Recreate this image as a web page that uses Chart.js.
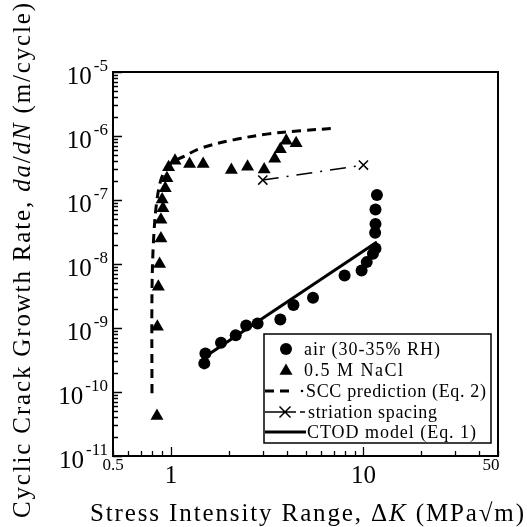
<!DOCTYPE html>
<html>
<head>
<meta charset="utf-8">
<script src="https://cdn.jsdelivr.net/npm/chart.js@4.4.1/dist/chart.umd.min.js"></script>
<style>
  body { margin: 0; background: #fff; }
  #wrap { width: 527px; height: 527px; }
</style>
</head>
<body>
<div id="wrap"><canvas id="chart"></canvas></div>
<script>
// air (30-35% RH)
const airK = [1.49, 1.51, 1.82, 2.17, 2.46, 2.82, 3.70, 4.33, 5.47, 7.98, 9.78, 10.4, 11.2, 11.55, 11.5, 11.55, 11.55, 11.75];
const airRate = [2.8e-10, 4.0e-10, 5.9e-10, 7.7e-10, 1.09e-9, 1.18e-9, 1.36e-9, 2.29e-9, 2.97e-9, 6.6e-9, 7.9e-9, 1.07e-8, 1.44e-8, 1.74e-8, 3.09e-8, 4.2e-8, 7.1e-8, 1.2e-7];

// 0.5 M NaCl
const naclK = [0.846, 0.85, 0.86, 0.873, 0.887, 0.887, 0.909, 0.90, 0.934, 0.953, 0.972, 1.05, 1.25, 1.47, 2.06, 2.50, 3.05, 3.46, 3.70, 3.97, 4.47];
const naclRate = [4.2e-11, 1.05e-9, 4.4e-9, 1.0e-8, 2.5e-8, 4.9e-8, 7.4e-8, 1.02e-7, 1.52e-7, 2.19e-7, 3.24e-7, 4.1e-7, 3.65e-7, 3.65e-7, 2.95e-7, 3.3e-7, 3.0e-7, 4.4e-7, 6.2e-7, 8.4e-7, 7.7e-7];

// SCC prediction (Eq. 2)
const sccK = [0.797, 0.797, 0.812, 0.846, 0.898, 0.99, 1.16, 1.42, 2.11, 3.15, 4.7, 7.14];
const sccRate = [9.6e-11, 3.5e-9, 2.37e-8, 1.0e-7, 2.3e-7, 3.7e-7, 4.75e-7, 6.4e-7, 8.7e-7, 1.07e-6, 1.21e-6, 1.32e-6];

// striation spacing
const striK = [3.0, 10.0];
const striRate = [2.05e-7, 3.52e-7];

// CTOD model (Eq. 1)
const ctodK = [1.53, 11.75];
const ctodRate = [3.7e-10, 2.2e-8];

// axis ticks
const yExponents = [-11, -10, -9, -8, -7, -6, -5];
const xTickValues = [0.5, 1, 10, 50];
const xTickLabels = ['0.5', '1', '10', '50'];

const pts = (xs, ys) => xs.map((x, i) => ({ x: x, y: ys[i] }));
const SERIF = '"Liberation Serif", "Times New Roman", serif';

// draw text with letter spacing stretched to a target width
function drawRich(ctx, segs, size, x, y, width) {
  ctx.letterSpacing = '0px';
  let base = 0, n = 0;
  segs.forEach(([t, it]) => {
    ctx.font = (it ? 'italic ' : '') + size + 'px ' + SERIF;
    base += ctx.measureText(t).width;
    n += [...t].length;
  });
  const ls = width ? (width - base) / (n - 1) : 0;
  let cx = x;
  segs.forEach(([t, it]) => {
    ctx.font = (it ? 'italic ' : '') + size + 'px ' + SERIF;
    ctx.letterSpacing = '0px';
    const w = ctx.measureText(t).width;
    ctx.letterSpacing = ls + 'px';
    ctx.fillText(t, cx, y);
    cx += w + ls * [...t].length;
  });
  ctx.letterSpacing = '0px';
}

const framePlugin = {
  id: 'frame',
  afterDraw(chart) {
    const { ctx, chartArea: a, scales: { x, y } } = chart;
    ctx.save();
    ctx.strokeStyle = '#000';
    ctx.fillStyle = '#000';
    ctx.lineWidth = 2;
    ctx.strokeRect(a.left, a.top, a.right - a.left, a.bottom - a.top);

    // inward ticks
    ctx.lineWidth = 1.3;
    ctx.beginPath();
    for (let e = -11; e <= -5; e++) {
      for (let m = 1; m < 10; m++) {
        const v = m * Math.pow(10, e);
        if (v > 1.0001e-5) break;
        const py = Math.round(y.getPixelForValue(v)) + 0.5;
        const len = m === 1 ? 9 : 5;
        ctx.moveTo(a.left, py); ctx.lineTo(a.left + len, py);
      }
    }
    for (let e = -1; e <= 1; e++) {
      for (let m = 1; m < 10; m++) {
        const v = m * Math.pow(10, e);
        if (v < 0.5 || v > 50) continue;
        const px = Math.round(x.getPixelForValue(v)) + 0.5;
        const len = m === 1 ? 9 : 5;
        ctx.moveTo(px, a.bottom); ctx.lineTo(px, a.bottom - len);
      }
    }
    ctx.stroke();

    // y tick labels: 10^n
    ctx.textBaseline = 'alphabetic';
    yExponents.forEach(e => {
      const py = y.getPixelForValue(Math.pow(10, e));
      const sup = '-' + Math.abs(e);
      ctx.font = '17px ' + SERIF;
      ctx.textAlign = 'right';
      ctx.fillText(sup, 108, py - 1);
      const sw = ctx.measureText(sup).width;
      ctx.font = '25px ' + SERIF;
      ctx.fillText('10', 106 - sw, py + 12);
    });

    // x tick labels
    ctx.textAlign = 'center';
    xTickValues.forEach((v, i) => {
      const px = x.getPixelForValue(v);
      const big = xTickLabels[i].length < 3 && v < 20;
      ctx.font = (big ? '25px ' : '17px ') + SERIF;
      const off = v === 50 ? -7 : 0;
      ctx.fillText(xTickLabels[i], px + off, big ? a.bottom + 27 : a.bottom + 14);
    });

    // axis titles
    ctx.textAlign = 'left';
    drawRich(ctx, [['Stress Intensity Range, \u0394', false], ['K', true], [' (MPa\u221am)', false]], 25, 90, 521, 434);
    ctx.save();
    ctx.translate(30, 518);
    ctx.rotate(-Math.PI / 2);
    drawRich(ctx, [['Cyclic Crack Growth Rate, ', false], ['da', true], ['/', false], ['dN', true], [' (m/cycle)', false]], 25, 0, 0, 515);
    ctx.restore();

    // legend box
    const ds = chart.data.datasets;
    const lx = 264, ly = 334, lw = 227, lh = 109;
    ctx.fillStyle = '#fff';
    ctx.fillRect(lx, ly, lw, lh);
    ctx.fillStyle = '#000';
    ctx.lineWidth = 1.5;
    ctx.strokeRect(lx, ly, lw, lh);
    const rows = [349, 370, 391, 412, 432];
    const sx = 286;
    // circle
    ctx.beginPath(); ctx.arc(sx, rows[0], 6, 0, Math.PI * 2); ctx.fill();
    // triangle
    const r = 7.5, ty = rows[1] + 1;
    ctx.beginPath();
    ctx.moveTo(sx, ty - r);
    ctx.lineTo(sx + r * 0.866, ty + r / 2);
    ctx.lineTo(sx - r * 0.866, ty + r / 2);
    ctx.closePath(); ctx.fill();
    // dashed
    ctx.lineWidth = 3;
    ctx.setLineDash([9, 6]);
    ctx.beginPath(); ctx.moveTo(265, rows[2]); ctx.lineTo(295, rows[2]); ctx.stroke();
    ctx.setLineDash([]);
    ctx.beginPath(); ctx.arc(302, rows[2], 1.3, 0, Math.PI * 2); ctx.fill();
    // striation
    ctx.lineWidth = 1.5;
    ctx.beginPath();
    ctx.moveTo(265, rows[3]); ctx.lineTo(296, rows[3]);
    ctx.moveTo(300, rows[3]); ctx.lineTo(305, rows[3]);
    const c = 5.5;
    ctx.moveTo(285 - c, rows[3] - c); ctx.lineTo(285 + c, rows[3] + c);
    ctx.moveTo(285 - c, rows[3] + c); ctx.lineTo(285 + c, rows[3] - c);
    ctx.stroke();
    // solid
    ctx.lineWidth = 3;
    ctx.beginPath(); ctx.moveTo(265, rows[4]); ctx.lineTo(306, rows[4]); ctx.stroke();

    const txt = [
      [ds[0].label, 304, 440],
      [ds[1].label, 304, 403],
      [ds[2].label, 306, 486],
      [ds[3].label, 308, 437],
      [ds[4].label, 307, 476]
    ];
    ctx.textAlign = 'left';
    txt.forEach((t, i) => {
      drawRich(ctx, [[t[0], false]], 18, t[1], rows[i] + 6, t[2] - t[1]);
    });
    ctx.restore();
  }
};

new Chart(document.getElementById('chart'), {
  type: 'scatter',
  data: {
    datasets: [
      {
        label: 'air (30-35% RH)',
        data: pts(airK, airRate),
        pointStyle: 'circle',
        pointRadius: 6,
        backgroundColor: '#000',
        borderColor: '#000',
        borderWidth: 0
      },
      {
        label: '0.5 M NaCl',
        data: pts(naclK, naclRate),
        pointStyle: 'triangle',
        pointRadius: 7.5,
        backgroundColor: '#000',
        borderColor: '#000',
        borderWidth: 0
      },
      {
        label: 'SCC prediction (Eq. 2)',
        data: pts(sccK, sccRate),
        showLine: true,
        pointRadius: 0,
        borderColor: '#000',
        borderWidth: 3,
        borderDash: [9, 6],
        tension: 0.35
      },
      {
        label: 'striation spacing',
        data: pts(striK, striRate),
        showLine: true,
        pointStyle: 'crossRot',
        pointRadius: 6.5,
        pointBorderWidth: 1.5,
        borderColor: '#000',
        borderWidth: 1.5,
        borderDash: [16, 8, 2, 8]
      },
      {
        label: 'CTOD model (Eq. 1)',
        data: pts(ctodK, ctodRate),
        showLine: true,
        pointRadius: 0,
        borderColor: '#000',
        borderWidth: 3
      }
    ]
  },
  options: {
    responsive: true,
    maintainAspectRatio: false,
    animation: false,
    layout: { padding: { left: 113, right: 29, top: 72, bottom: 71 } },
    plugins: { legend: { display: false }, tooltip: { enabled: false } },
    scales: {
      x: { type: 'logarithmic', min: 0.5, max: 50, display: false },
      y: { type: 'logarithmic', min: 1e-11, max: 1e-5, display: false }
    }
  },
  plugins: [framePlugin]
});
</script>
</body>
</html>
